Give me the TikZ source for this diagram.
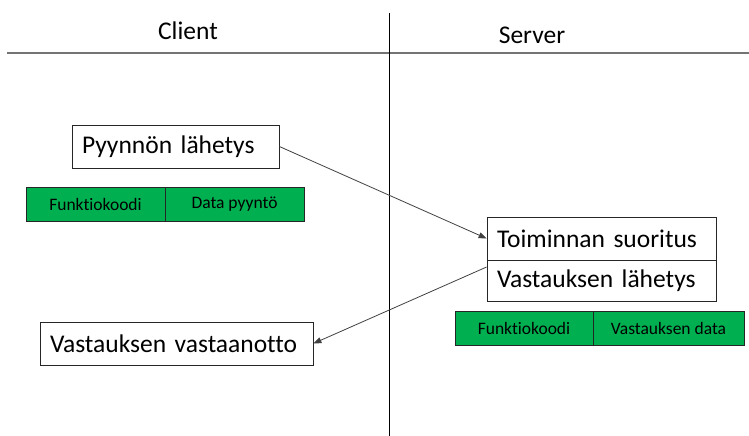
\documentclass[tikz,border=0pt]{standalone}
\usepackage{fontspec}
\setmainfont{Carlito}[Ligatures=NoCommon]
\usetikzlibrary{arrows.meta}
\definecolor{OfficeGreen}{RGB}{0,176,80}

\begin{document}
\begin{tikzpicture}[x=1pt,y=-1pt,
    stepbox/.style={draw=black!85,fill=white,line width=0.8pt,inner xsep=10pt,inner ysep=0pt,
        minimum height=43pt,align=left,font=\fontsize{25.5}{28}\selectfont},
    field/.style={draw=black!85,fill=OfficeGreen,line width=0.8pt,inner sep=0pt,
        minimum height=34pt,font=\fontsize{17.5}{19}\selectfont},
    msg/.style={draw=black!75,line width=0.8pt,-{Triangle[length=8pt,width=6pt]}}]
    \useasboundingbox (0,0) rectangle (749,436);

    % columns
    \draw[black!55,line width=1.6pt] (7,53) -- (749,53);
    \draw[black,line width=0.8pt] (389,13) -- (389,436);
    \node[font=\fontsize{25.5}{28}\selectfont] (client) at (188,31) {Client};
    \node[font=\fontsize{25.5}{28}\selectfont] (server) at (532,35) {Server};

    % client side
    \node[stepbox,text width=187pt] (pyynto) at (175.5,146.5) {Pyynnön lähetys};
    \node[field,minimum width=139pt] (fkoodi1) at (95.5,204) {Funktiokoodi};
    \node[field,minimum width=139pt] (dpyynto) at (234.5,204) {Data pyyntö};
    \node[stepbox,text width=253pt] (vastaanotto) at (176.5,343.5) {Vastauksen vastaanotto};

    % server side
    \node[stepbox,text width=209pt] (suoritus) at (601.5,238.5) {Toiminnan suoritus};
    \node[stepbox,text width=209pt,minimum height=41pt] (lahetys) at (601.5,280.5) {Vastauksen lähetys};
    \node[field,minimum width=138pt] (fkoodi2) at (524,328.5) {Funktiokoodi};
    \node[field,minimum width=151pt] (vdata) at (668.5,328.5) {Vastauksen data};

    % messages
    \draw[msg] (pyynto.east) -- (suoritus.west);
    \draw[msg] ([yshift=13.5pt]lahetys.west) -- (vastaanotto.east);
\end{tikzpicture}
\end{document}
